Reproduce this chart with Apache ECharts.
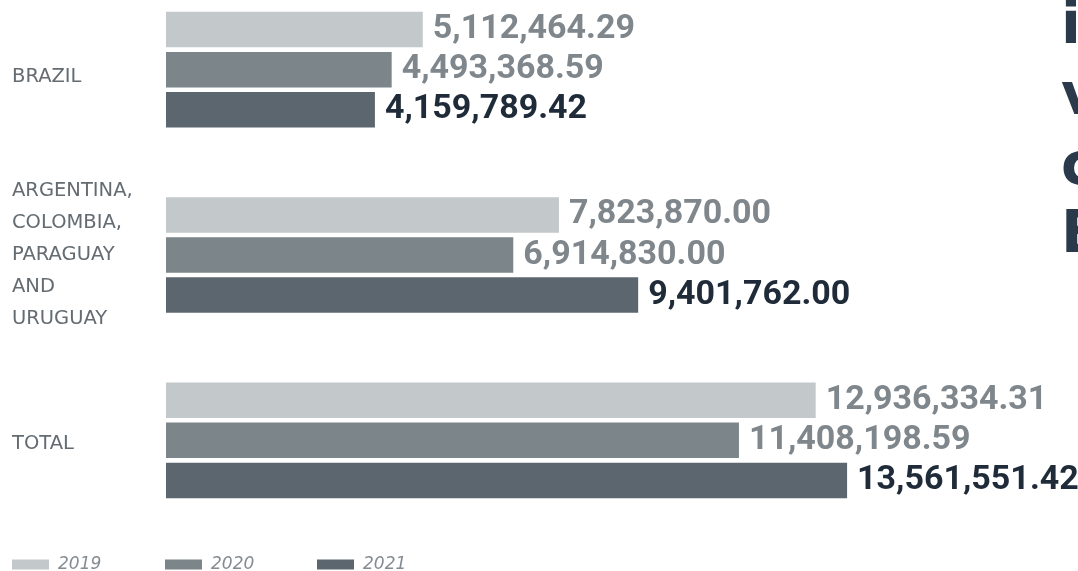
<!DOCTYPE html>
<html>
<head>
<meta charset="utf-8">
<script src="https://cdn.jsdelivr.net/npm/echarts@6/dist/echarts.min.js"></script>
<style>
html,body{margin:0;padding:0;background:#fff;overflow:hidden;}
#wrap{position:relative;width:1078px;height:571px;overflow:hidden;}
#chart{position:absolute;left:0;top:-30px;width:1078px;height:601px;}
</style>
</head>
<body>
<div id="wrap"><div id="chart"></div></div>
<script>
const categories = ['BRAZIL', 'ARGENTINA,\nCOLOMBIA,\nPARAGUAY\nAND\nURUGUAY', 'TOTAL'];
const years = ['2019', '2020', '2021'];
const values2019 = [5112464.29, 7823870.00, 12936334.31];
const values2020 = [4493368.59, 6914830.00, 11408198.59];
const values2021 = [4159789.42, 9401762.00, 13561551.42];
const headingLetters = ['i', 'v', 'c', 'E'];

const barColors = ['#c3c8ca', '#7b858a', '#5c666f'];
const labelColors = ['#7f878c', '#7f878c', '#1f2b38'];
const seriesValues = [values2019, values2020, values2021];
const OFF = 30; // chart canvas is shifted up by this many pixels

function fmt(v) {
  return v.toLocaleString('en-US', {minimumFractionDigits: 2, maximumFractionDigits: 2});
}

// small downward nudges of the axis labels (layout only)
const labelStyles = [
  {align: 'left', verticalAlign: 'top', lineHeight: 15},
  {align: 'left', verticalAlign: 'middle', lineHeight: 32},
  {align: 'left', verticalAlign: 'top', lineHeight: 8}
];

const chart = echarts.init(document.getElementById('chart'), null, {renderer: 'canvas'});

const legends = years.map((y, i) => ({
  data: [y],
  left: [12, 165, 317][i],
  top: 556 + OFF,
  padding: 0,
  itemWidth: 37,
  itemHeight: 10,
  icon: 'rect',
  selectedMode: false,
  textStyle: {
    fontFamily: 'DejaVu Sans',
    fontStyle: 'italic',
    fontSize: 17,
    color: '#858c91',
    padding: [0, 0, 0, 4]
  }
}));

chart.setOption({
  animation: false,
  backgroundColor: '#ffffff',
  color: barColors,
  legend: legends,
  grid: {left: 166, right: 8, top: -23 + OFF, bottom: 38, containLabel: false, outerBoundsMode: 'none'},
  xAxis: {
    type: 'value', min: 0, max: 18000000, show: false
  },
  yAxis: {
    type: 'category',
    data: categories.map((c, i) => ({value: c, textStyle: labelStyles[i]})),
    inverse: true,
    axisLine: {show: false},
    axisTick: {show: false},
    splitLine: {show: false},
    axisLabel: {
      align: 'left',
      margin: 154,
      fontFamily: 'DejaVu Sans',
      fontSize: 19.5,
      lineHeight: 32,
      color: '#646c72'
    }
  },
  series: years.map((y, i) => ({
    name: y,
    type: 'bar',
    data: seriesValues[i],
    barWidth: 35.5,
    barGap: '13%',
    itemStyle: {color: barColors[i]},
    label: {
      show: true,
      position: 'right',
      distance: 10,
      formatter: p => fmt(p.value),
      fontFamily: 'Roboto',
      fontWeight: 'bold',
      fontSize: 34,
      color: labelColors[i]
    }
  })),
  graphic: headingLetters.map((ch, i) => ({
    type: 'text',
    left: 1061,
    top: [-1, 70, 140, 208][i] + OFF,
    style: {
      text: ch,
      fontFamily: 'DejaVu Sans',
      fontWeight: 'bold',
      fontSize: 58,
      fill: '#2b3a4a'
    }
  }))
});
</script>
</body>
</html>
